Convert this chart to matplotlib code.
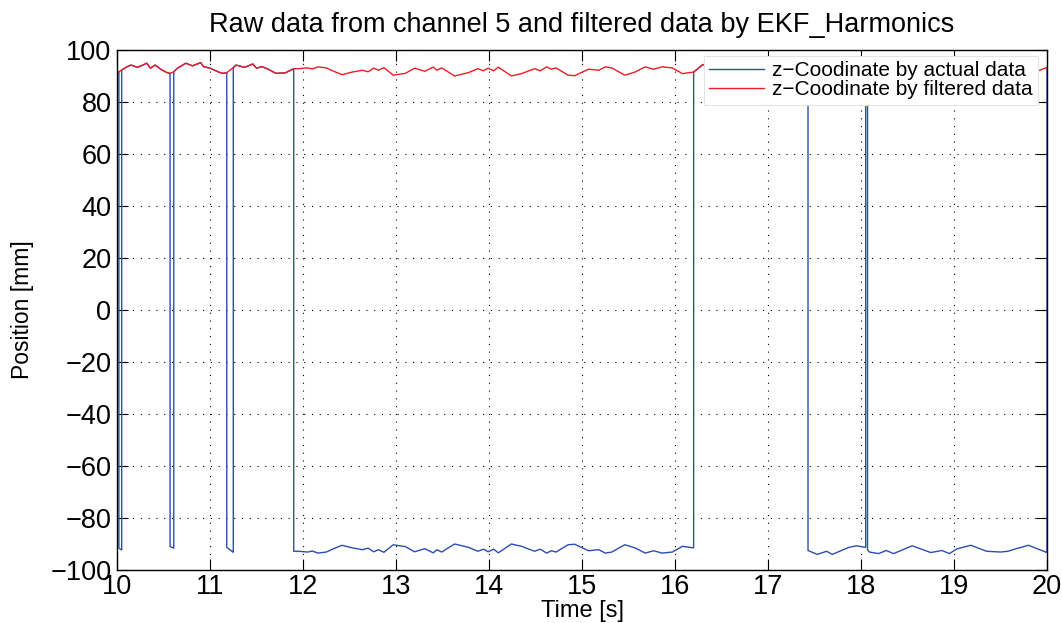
import numpy as np
import matplotlib
matplotlib.use("Agg")
import matplotlib.pyplot as plt

# z-position from the EKF (harmonics model), read at irregular sample times
time_s = [
    10.00, 10.02, 10.05, 10.10, 10.15, 10.22, 10.32, 10.36, 10.41, 10.47,
    10.53, 10.57, 10.61, 10.65, 10.74, 10.81, 10.90, 10.93, 11.00, 11.10,
    11.14, 11.18, 11.25, 11.28, 11.37, 11.46, 11.50, 11.56, 11.63, 11.71,
    11.81, 11.90, 11.95, 12.05, 12.10, 12.16, 12.25, 12.33, 12.42, 12.53,
    12.64, 12.70, 12.76, 12.81, 12.87, 12.97, 13.10, 13.20, 13.31, 13.40,
    13.44, 13.49, 13.63, 13.78, 13.88, 13.94, 13.99, 14.05, 14.10, 14.24,
    14.35, 14.49, 14.55, 14.62, 14.67, 14.72, 14.85, 14.92, 15.07, 15.18,
    15.25, 15.32, 15.46, 15.57, 15.68, 15.77, 15.86, 15.97, 16.08, 16.20,
    16.30, 16.35, 16.45, 16.60, 16.75, 16.90, 17.05, 17.20, 17.30, 17.43,
    17.53, 17.63, 17.69, 17.77, 17.87, 17.95, 18.05, 18.07, 18.09, 18.19,
    18.27, 18.35, 18.55, 18.75, 18.87, 18.95, 19.03, 19.18, 19.35, 19.50,
    19.58, 19.66, 19.80, 19.90, 20.00,
]
z_filtered = [
    91.0, 91.6, 92.3, 93.4, 94.2, 93.3, 94.9, 93.0, 94.2, 92.6,
    91.4, 91.0, 91.6, 93.0, 94.9, 93.9, 95.1, 93.6, 93.0, 91.4,
    91.0, 91.3, 93.2, 94.2, 93.3, 94.6, 93.0, 93.6, 92.5, 91.0,
    91.2, 92.8, 92.8, 93.1, 92.7, 93.5, 93.1, 91.8, 90.5, 91.5,
    92.2, 91.6, 93.0, 92.2, 93.2, 90.3, 91.0, 93.0, 91.8, 93.4,
    92.2, 93.1, 90.0, 91.3, 92.8, 92.0, 93.0, 92.0, 93.4, 90.0,
    90.9, 92.8, 92.0, 93.5, 92.6, 93.1, 90.3, 90.1, 92.6, 92.2,
    93.5, 93.1, 90.3, 91.5, 93.5, 92.6, 93.5, 93.1, 90.9, 91.5,
    94.4, 93.8, 92.5, 91.0, 92.5, 93.5, 92.0, 91.0, 91.5, 92.5,
    94.0, 92.8, 94.0, 92.8, 91.3, 90.7, 91.3, 92.2, 93.1, 93.7,
    92.5, 93.7, 90.7, 93.3, 92.5, 93.7, 91.9, 90.5, 92.8, 93.1,
    92.8, 91.9, 90.5, 91.9, 93.3,
]
# intervals where channel 5 reports the mirrored (negative) position
mirrored = [
    (10.02, 10.05), (10.57, 10.61), (11.18, 11.25),
    (11.90, 16.20), (17.43, 18.05), (18.07, 20.00),
]


def sign_at(t, after):
    for a, b in mirrored:
        if (after and a <= t < b) or (not after and a < t <= b):
            return -1.0
    return 1.0


# raw channel data: same samples, sign flipped inside the mirrored intervals
raw_t, raw_z = [], []
for t, z in zip(time_s, z_filtered):
    s0, s1 = sign_at(t, False), sign_at(t, True)
    raw_t.append(t)
    raw_z.append(s0 * z)
    if s0 != s1:
        raw_t.append(t)
        raw_z.append(s1 * z)

plt.rcParams["font.family"] = ["Liberation Sans", "DejaVu Sans"]

fig = plt.figure(figsize=(10.62, 6.23), dpi=100)
ax = fig.add_axes([0.1102, 0.0851, 0.8757, 0.8347])

ax.plot(raw_t, raw_z, color="#2d4db3", lw=1.0,
        label="z\u2212Coodinate by actual data")
ax.plot(time_s, z_filtered, color="#ee1c25", lw=1.0,
        label="z\u2212Coodinate by filtered data")

ax.set_xlim(10, 20)
ax.set_ylim(-100, 100)
ax.set_xticks(np.arange(10, 21, 1))
ax.set_yticks(np.arange(-100, 101, 20))
ax.grid(True, color="black", linestyle=(0, (1, 6)), lw=0.8)
ax.tick_params(direction="in", length=8, width=0.8, top=True, right=True,
               labelsize=19.5)
ax.tick_params(axis="x", pad=3)
ax.tick_params(axis="y", pad=4)
for sp in ax.spines.values():
    sp.set_linewidth(1.0)

ax.set_title("Raw data from channel 5 and filtered data by EKF_Harmonics",
             fontsize=19.5, pad=13)
ax.set_xlabel("Time [s]", fontsize=17, labelpad=0)
ax.set_ylabel("Position [mm]", fontsize=16.5, labelpad=12)

leg = ax.legend(loc="upper right", bbox_to_anchor=(0.99, 0.988),
                borderaxespad=0, fontsize=15, fancybox=False, framealpha=1,
                edgecolor="#e4e4e4", handlelength=2.6, handletextpad=0.4,
                labelspacing=0.0, borderpad=0.25)
leg.get_frame().set_linewidth(0.8)

fig.savefig("out.png", dpi=100)
